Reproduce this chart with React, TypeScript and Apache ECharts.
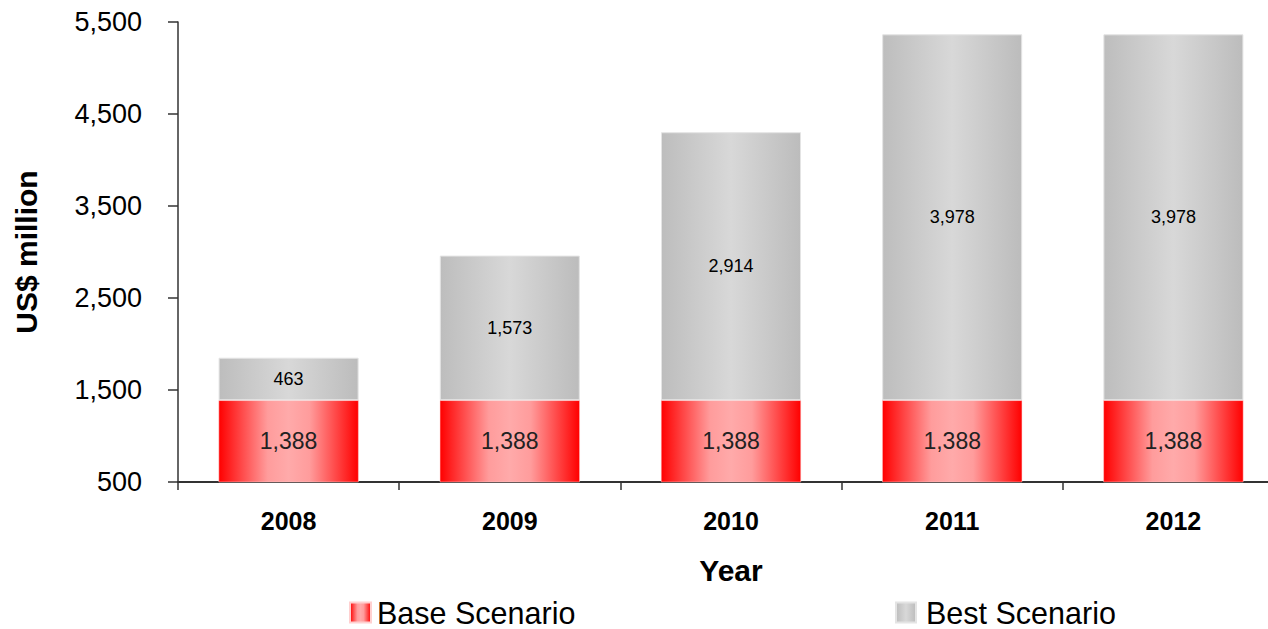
import React, { useEffect, useRef } from "react";
import * as echarts from "echarts";

const years = ["2008", "2009", "2010", "2011", "2012"];
const baseScenario = [1388, 1388, 1388, 1388, 1388];
const bestScenario = [463, 1573, 2914, 3978, 3978];
const yTicks = { min: 500, max: 5500, interval: 1000 };

const FONT = "'Liberation Sans', Arial, sans-serif";

export default function App() {
  const ref = useRef<HTMLDivElement>(null);
  useEffect(() => {
    if (!ref.current) return;
    const chart = echarts.init(ref.current, undefined, { renderer: "svg" });
    const redGrad = new echarts.graphic.LinearGradient(0, 0, 1, 0, [
      { offset: 0, color: "#ff0000" },
      { offset: 0.35, color: "#ff9c9c" },
      { offset: 0.5, color: "#ffaaaa" },
      { offset: 0.65, color: "#ff9c9c" },
      { offset: 1, color: "#ff0000" },
    ]);
    const grayGrad = new echarts.graphic.LinearGradient(0, 0, 1, 0, [
      { offset: 0, color: "#bdbdbd" },
      { offset: 0.5, color: "#d8d8d8" },
      { offset: 1, color: "#bcbcbc" },
    ]);
    const legendText = { fontFamily: FONT, fontSize: 30.5, color: "#000", lineHeight: 30 };
    chart.setOption({
      animation: false,
      textStyle: { fontFamily: FONT },
      grid: { left: 178, top: 22, bottom: 147, right: 0, containLabel: false },
      legend: [
        {
          left: 344,
          top: 592,
          itemWidth: 21,
          itemHeight: 20,
          icon: "rect",
          textStyle: { ...legendText, padding: [0, 0, 0, 1] },
          data: ["Base Scenario"],
        },
        {
          left: 890,
          top: 592,
          itemWidth: 20,
          itemHeight: 20,
          icon: "rect",
          textStyle: { ...legendText, padding: [0, 0, 0, 5] },
          data: ["Best Scenario"],
        },
      ],
      xAxis: {
        type: "category",
        data: years,
        name: "Year",
        nameLocation: "middle",
        nameGap: 73,
        nameTextStyle: { fontFamily: FONT, fontSize: 30, fontWeight: "bold", color: "#000" },
        axisLine: { lineStyle: { color: "#333", width: 2 } },
        axisTick: { show: true, length: 8, lineStyle: { color: "#333", width: 1.5 } },
        axisLabel: { fontFamily: FONT, fontSize: 25, fontWeight: "bold", color: "#000", margin: 26 },
      },
      yAxis: {
        type: "value",
        min: yTicks.min,
        max: yTicks.max,
        interval: yTicks.interval,
        name: "US$ million",
        nameLocation: "middle",
        nameGap: 137,
        nameTextStyle: { fontFamily: FONT, fontSize: 30, fontWeight: "bold", color: "#000" },
        axisLine: { show: true, lineStyle: { color: "#333", width: 1.5 } },
        axisTick: { show: true, length: 10, lineStyle: { color: "#333", width: 1.5 } },
        splitLine: { show: false },
        axisLabel: {
          fontFamily: FONT,
          fontSize: 27,
          color: "#000",
          margin: 36,
          formatter: (v: number) => v.toLocaleString("en-US"),
        },
      },
      series: [
        {
          name: "Base Scenario",
          type: "bar",
          stack: "total",
          data: baseScenario,
          barCategoryGap: "36.7%",
          itemStyle: { color: redGrad, borderColor: "#ffd0d0", borderWidth: 0.5 },
          label: {
            show: true,
            position: "inside",
            fontFamily: FONT,
            fontSize: 23,
            color: "#222",
            formatter: (p: any) => Number(p.value).toLocaleString("en-US"),
          },
        },
        {
          name: "Best Scenario",
          type: "bar",
          stack: "total",
          data: bestScenario,
          barCategoryGap: "36.7%",
          itemStyle: { color: grayGrad, borderColor: "#e4e4e4", borderWidth: 1 },
          label: {
            show: true,
            position: "inside",
            fontFamily: FONT,
            fontSize: 18,
            color: "#000",
            formatter: (p: any) => Number(p.value).toLocaleString("en-US"),
          },
        },
      ],
    });
    return () => chart.dispose();
  }, []);
  return (
    <div style={{ position: "fixed", left: 0, top: 0, width: 1268, height: 629, overflow: "hidden", background: "#fff" }}>
      <div ref={ref} style={{ width: 1284, height: 629 }} />
    </div>
  );
}
